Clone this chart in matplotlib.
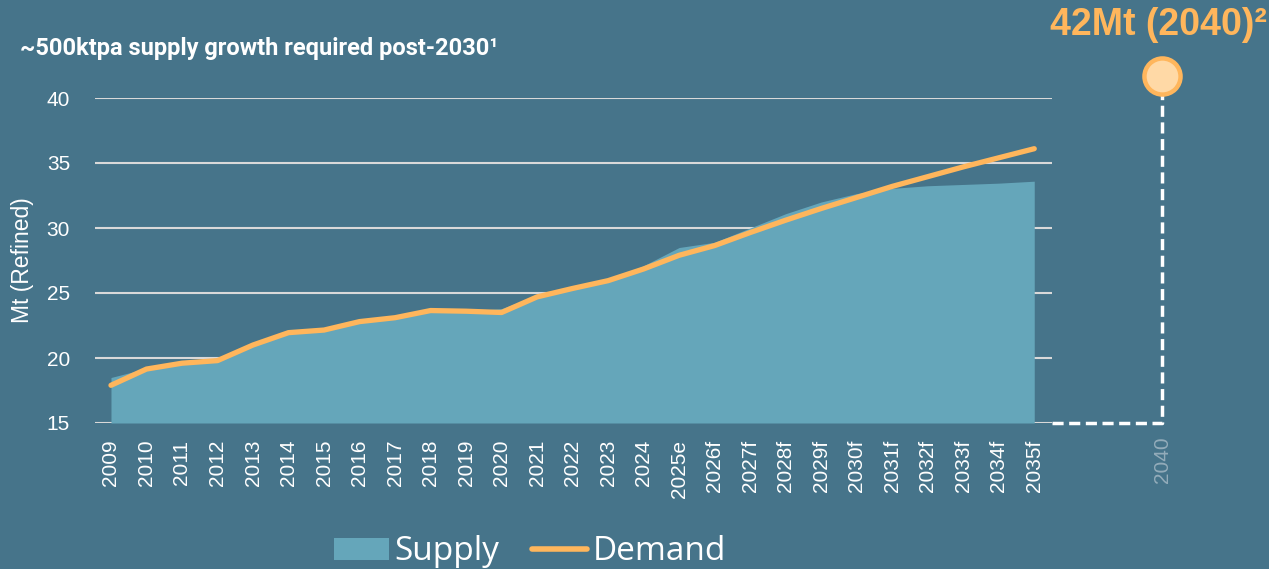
import matplotlib
matplotlib.use("Agg")
import matplotlib.pyplot as plt
from matplotlib.patches import Patch
from matplotlib.lines import Line2D

years = ["2009", "2010", "2011", "2012", "2013", "2014", "2015", "2016", "2017",
         "2018", "2019", "2020", "2021", "2022", "2023", "2024", "2025e", "2026f",
         "2027f", "2028f", "2029f", "2030f", "2031f", "2032f", "2033f", "2034f", "2035f"]
supply = [18.5, 19.2, 19.8, 19.9, 21.0, 21.95, 22.15, 22.8, 23.1,
          23.7, 23.6, 23.8, 24.8, 25.3, 26.0, 27.1, 28.5, 28.9,
          30.0, 31.1, 32.0, 32.65, 33.05, 33.25, 33.35, 33.45, 33.6]
demand = [17.9, 19.15, 19.6, 19.8, 21.0, 21.95, 22.15, 22.8, 23.1,
          23.65, 23.6, 23.5, 24.7, 25.35, 25.95, 26.85, 27.9, 28.65,
          29.65, 30.6, 31.5, 32.35, 33.2, 33.95, 34.7, 35.4, 36.1]
target_label = "2040"
target_value = 41.7
target_text = "42Mt (2040)\u00b2"
title = "~500ktpa supply growth required post-2030\u00b9"
ylabel = "Mt (Refined)"
yticks = [15, 20, 25, 30, 35, 40]

BG = "#46748A"
FILL = "#65A6BA"
ORANGE = "#FFB65C"
GRID = "#D9D9D9"

W, H = 1269, 569
fig = plt.figure(figsize=(W / 100, H / 100), dpi=100, facecolor=BG)
ax = fig.add_axes([95 / W, 1 - 423 / H, (1052 - 95) / W, (423 - 98) / H])
ax.set_facecolor(BG)

x = list(range(len(years)))
ax.fill_between(x, 15, supply, color=FILL, linewidth=0, zorder=2)
ax.plot(x, demand, color=ORANGE, lw=3.8, solid_capstyle="round",
        solid_joinstyle="round", zorder=3)

ax.set_ylim(15, 40)
ax.set_xlim(-0.45, len(years) - 0.5)
ax.set_yticks(yticks)
ax.set_xticks(x)
ax.set_xticklabels(years, rotation=90)
for s in ax.spines.values():
    s.set_visible(False)
ax.grid(axis="y", color=GRID, lw=1.5, zorder=1)
ax.set_axisbelow(True)
ax.tick_params(length=0, colors="white", labelsize=15)
ax.tick_params(axis="y", pad=18)
ax.tick_params(axis="x", pad=12)
for lab in ax.get_xticklabels() + ax.get_yticklabels():
    lab.set_fontfamily("Liberation Sans")
ax.set_ylabel(ylabel, color="white", fontsize=16.5, family="Liberation Sans")
ax.yaxis.set_label_coords(-0.064, 0.5)

# 2040 target marker outside axes
xt = 29.6
ax.plot([len(years) - 0.5, xt, xt], [15, 15, target_value], color="white", lw=2.5,
        ls=(0, (3.2, 1.6)), clip_on=False, zorder=4)
ax.plot([xt], [target_value], marker="o", ms=26, mfc="#FFD9A6", mec=ORANGE, mew=3.2,
        clip_on=False, zorder=5)
ax.text(xt, 14.0, target_label, rotation=90, ha="center", va="top", color="#93ACBA",
        fontsize=15, family="Liberation Sans", clip_on=False)

fig.text(1267 / W, 1 - 25 / H, target_text, color=ORANGE, fontsize=27, fontweight="bold",
         ha="right", va="center", family="Liberation Sans")
fig.text(20 / W, 1 - 49 / H, title, color="white", fontsize=17, fontweight="bold",
         ha="left", va="center", family="Roboto")

handles = [Patch(facecolor=FILL, edgecolor="none", label="Supply"),
           Line2D([0], [0], color=ORANGE, lw=4, solid_capstyle="round", label="Demand")]
fig.legend(handles=handles, loc="center", bbox_to_anchor=(530 / W, 1 - 552 / H), ncol=2,
           frameon=False, labelcolor="white", handlelength=1.65,
           handleheight=0.65, handletextpad=0.15, columnspacing=1.0,
           prop={"family": "Open Sans", "size": 24})

fig.savefig("out.png", dpi=100, facecolor=BG)
